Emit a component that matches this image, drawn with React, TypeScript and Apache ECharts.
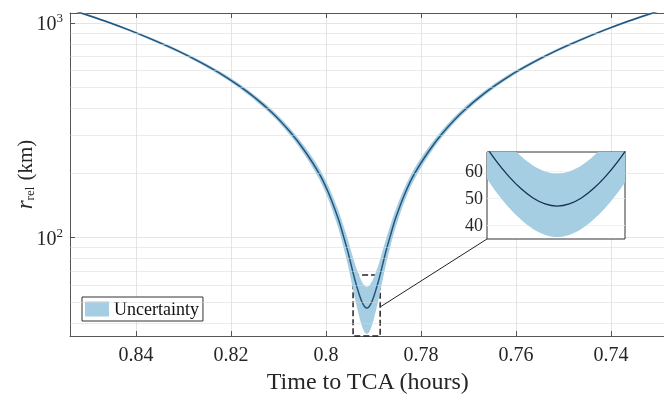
import React, { useEffect, useRef } from 'react';
import * as echarts from 'echarts';

// Time to TCA (hours)
const timeHours = [
  0.854, 0.8514, 0.8464, 0.8414, 0.8364, 0.8314, 0.8264, 0.8214, 0.8164, 0.8114, 0.8074, 0.8044,
  0.8014, 0.7994, 0.7974, 0.7964, 0.7954, 0.7944, 0.7939, 0.7934, 0.7929, 0.7924, 0.7919, 0.7914,
  0.7909, 0.7904, 0.7899, 0.7894, 0.7889, 0.7884, 0.7874, 0.7864, 0.7854, 0.7834, 0.7814, 0.7784,
  0.7754, 0.7714, 0.7664, 0.7614, 0.7564, 0.7514, 0.7464, 0.7414, 0.7364, 0.7314, 0.7288,
];
// Relative distance r_rel (km)
const rRel = [
  1159, 1111, 1019, 926, 834, 745, 655, 566, 475, 383, 308, 252,
  198, 160, 122, 103, 86, 70, 63.4, 58, 53.5, 50, 47.8, 47,
  47.8, 50, 53.5, 58, 63.4, 70, 86, 103, 122, 160, 198, 252,
  308, 383, 475, 566, 655, 745, 834, 926, 1019, 1111, 1159,
];
// Uncertainty band lower / upper (km)
const rLower = [
  1147.5, 1099.5, 1007.5, 914.5, 822.5, 733.5, 643.5, 554.5, 463.5, 371.5, 296.5, 240.5,
  186.5, 148.5, 110.5, 91.5, 74.5, 58.5, 51.9, 46.5, 42, 38.5, 36.3, 35.5,
  36.3, 38.5, 42, 46.5, 51.9, 58.5, 74.5, 91.5, 110.5, 148.5, 186.5, 240.5,
  296.5, 371.5, 463.5, 554.5, 643.5, 733.5, 822.5, 914.5, 1007.5, 1099.5, 1147.5,
];
const rUpper = [
  1171, 1123, 1031, 938, 846, 757, 667, 578, 487, 395, 320, 264,
  210, 172, 134, 115, 98, 82, 75.4, 70, 65.5, 62, 59.8, 59,
  59.8, 62, 65.5, 70, 75.4, 82, 98, 115, 134, 172, 210, 264,
  320, 395, 487, 578, 667, 757, 846, 938, 1031, 1123, 1171,
];
const xRange = [0.7285, 0.8539];
const yRange = [34.8, 1113];
const minorGridValues = [40, 50, 60, 70, 80, 90, 200, 300, 400, 500, 600, 700, 800, 900];
const insetTimeRange = [0.7886, 0.7943];
const insetRRange = [34.8, 67];
const insetTickValues = [40, 50, 60];
const connectorStartR = 47.5;

const FONT = 'Liberation Serif';
const BAND = '#a6cee3';

export default function App() {
  const ref = useRef<HTMLDivElement>(null);
  useEffect(() => {
    const chart = echarts.init(ref.current!, null, { renderer: 'svg' });
    const lineData = timeHours.map((t, i) => [t, rRel[i]]);
    const bandData = timeHours.map((t, i) => [t, rLower[i], rUpper[i]]);

    const bandRender = (params: any, api: any) => {
      if (params.dataIndex !== 0) return null;
      const up = bandData.map((d) => api.coord([d[0], d[2]]));
      const lo = bandData.map((d) => api.coord([d[0], d[1]])).reverse();
      const cs = params.coordSys;
      return {
        type: 'polygon',
        shape: { points: up.concat(lo), smooth: 0.3 },
        style: { fill: BAND },
        clipPath: { type: 'rect', shape: { x: cs.x, y: cs.y, width: cs.width, height: cs.height } },
      };
    };

    const supFmt = (v: number) => {
      const e = Math.log10(v);
      const r = Math.round(e);
      if (Math.abs(e - r) < 1e-6 && (r === 2 || r === 3)) return `{b|10}{s|${r}}`;
      return '';
    };

    const axisCol = '#555';
    const textCol = '#262626';

    chart.setOption({
      animation: false,
      grid: [
        { left: 70, top: 13, width: 595.6, height: 323, show: false, outerBoundsMode: 'none', containLabel: false },
        { left: 487, top: 152, width: 138, height: 87, show: true, backgroundColor: '#fff', borderColor: '#333', borderWidth: 1, z: 5, outerBoundsMode: 'none', containLabel: false },
      ],
      legend: {
        data: [{ name: 'Uncertainty', icon: 'rect' }],
        left: 82, top: 297, itemWidth: 24, itemHeight: 15,
        padding: [3, 4, 3, 3],
        borderColor: '#333', borderWidth: 1, backgroundColor: '#fff',
        textStyle: { fontFamily: FONT, fontSize: 18, color: '#111' },
      },
      xAxis: [
        {
          gridIndex: 0, type: 'value', inverse: true, min: xRange[0], max: xRange[1], splitNumber: 6,
          name: 'Time to TCA (hours)', nameLocation: 'middle', nameGap: 30,
          nameTextStyle: { fontFamily: FONT, fontSize: 24, color: textCol },
          axisLine: { show: true, lineStyle: { color: axisCol, width: 1 } },
          axisTick: { show: true, inside: true, length: 5, lineStyle: { color: axisCol } },
          axisLabel: { fontFamily: FONT, fontSize: 20, color: textCol, margin: 8, showMinLabel: false, showMaxLabel: false },
          splitLine: { show: true, lineStyle: { color: '#e4e4e4', width: 1 } },
        },
        {
          gridIndex: 0, type: 'value', inverse: true, min: xRange[0], max: xRange[1], splitNumber: 6, position: 'top',
          axisLine: { show: true, lineStyle: { color: axisCol, width: 1 } },
          axisTick: { show: true, inside: true, length: 5, lineStyle: { color: axisCol } },
          axisLabel: { show: false }, splitLine: { show: false },
        },
        {
          gridIndex: 1, type: 'value', inverse: true, min: insetTimeRange[0], max: insetTimeRange[1],
          axisLine: { show: false }, axisTick: { show: false }, axisLabel: { show: false }, splitLine: { show: false }, z: 9,
        },
      ],
      yAxis: [
        {
          gridIndex: 0, type: 'log', logBase: 10, min: yRange[0], max: yRange[1],
          name: '{i|r}{s|rel} (km)', nameLocation: 'middle', nameGap: 34, nameRotate: 90, nameMoveOverlap: false,
          nameTextStyle: {
            fontFamily: FONT, fontSize: 21, color: textCol,
            rich: {
              i: { fontFamily: FONT, fontStyle: 'italic', fontSize: 23, color: textCol },
              s: { fontFamily: FONT, fontSize: 13, color: textCol, verticalAlign: 'bottom', padding: [8, 1, 0, 0] },
            },
          },
          axisLine: { show: true, lineStyle: { color: axisCol, width: 1 } },
          axisTick: { show: true, inside: true, length: 5, lineStyle: { color: axisCol } },
          axisLabel: {
            formatter: supFmt, showMinLabel: false, showMaxLabel: false, margin: 7,
            fontFamily: FONT, color: textCol,
            rich: {
              b: { fontFamily: FONT, fontSize: 20, color: textCol },
              s: { fontFamily: FONT, fontSize: 13, color: textCol, verticalAlign: 'top', padding: [0, 0, 10, 0] },
            },
          },
          splitLine: { show: true, lineStyle: { color: '#e4e4e4', width: 1 } },
        },
        {
          gridIndex: 1, type: 'value', min: insetRRange[0], max: insetRRange[1], splitNumber: 3, z: 9,
          axisLine: { show: false },
          axisTick: { show: false },
          axisLabel: {
            fontFamily: FONT, fontSize: 18, color: textCol, margin: 4, showMinLabel: false, showMaxLabel: false,
            formatter: (v: number) => (insetTickValues.some((t) => Math.abs(t - v) < 1e-6) ? String(Math.round(v)) : ''),
          },
          splitLine: { show: false },
        },
      ],
      series: [
        {
          name: 'minor', type: 'line', xAxisIndex: 0, yAxisIndex: 0, z: 1, silent: true,
          data: [[0.8, 100]], showSymbol: false, lineStyle: { width: 0, opacity: 0 },
          markLine: {
            silent: true, symbol: 'none', label: { show: false },
            lineStyle: { color: '#d6d6d6', type: 'dotted', width: 1 },
            data: minorGridValues.map((v) => ({ yAxis: v })),
          },
        },
        {
          name: 'Uncertainty', type: 'custom', xAxisIndex: 0, yAxisIndex: 0, z: 2, clip: true,
          itemStyle: { color: BAND }, renderItem: bandRender, data: bandData,
        },
        {
          name: 'r', type: 'line', xAxisIndex: 0, yAxisIndex: 0, z: 3, data: lineData,
          showSymbol: false, smooth: 0.3,
          lineStyle: { color: '#24547c', width: 1.5 },
          markArea: {
            silent: true,
            itemStyle: { color: 'rgba(0,0,0,0)', borderColor: '#222', borderWidth: 1.5, borderType: 'dashed' },
            data: [[{ coord: [insetTimeRange[1], insetRRange[1]] }, { coord: [insetTimeRange[0], insetRRange[0]] }]],
          },
        },
        {
          name: 'bandInset', type: 'custom', xAxisIndex: 2, yAxisIndex: 1, z: 7, clip: true,
          itemStyle: { color: BAND }, renderItem: bandRender, data: bandData,
        },
        {
          name: 'rInset', type: 'line', xAxisIndex: 2, yAxisIndex: 1, z: 8, data: lineData,
          showSymbol: false, smooth: 0.3, clip: true,
          lineStyle: { color: '#17324d', width: 1.3 },
          markLine: {
            silent: true, symbol: 'none', label: { show: false },
            lineStyle: { color: 'rgba(235,240,244,0.8)', type: 'solid', width: 1 },
            data: insetTickValues.map((v) => ({ yAxis: v })),
          },
        },
      ],
    });

    const p1 = chart.convertToPixel({ xAxisIndex: 0, yAxisIndex: 0 } as any, [insetTimeRange[0], connectorStartR]) as number[];
    const p2 = chart.convertToPixel({ xAxisIndex: 2, yAxisIndex: 1 } as any, [insetTimeRange[1], insetRRange[0]]) as number[];
    chart.setOption({
      graphic: [
        { type: 'line', z: 10, shape: { x1: p1[0], y1: p1[1], x2: p2[0], y2: p2[1] }, style: { stroke: '#222', lineWidth: 1 } },
      ],
    });

    return () => chart.dispose();
  }, []);
  return <div ref={ref} style={{ position: 'fixed', left: 0, top: 0, width: 664, height: 395 }} />;
}
